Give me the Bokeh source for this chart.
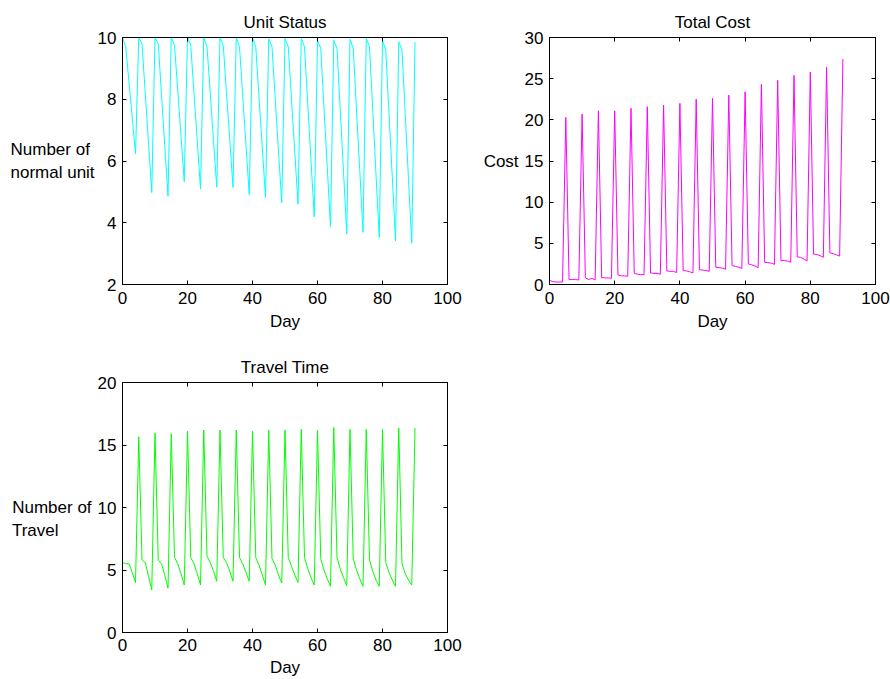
from bokeh.plotting import figure
from bokeh.models import Range1d, LinearAxis, FixedTicker, CustomJSTickFormatter
from bokeh.layouts import column, row
from bokeh.embed import file_html
from bokeh.resources import INLINE

# ---------------- data ----------------
days = list(range(91))

unit_status = [
    10, 9.7, 8.55, 7.4, 6.23,
    10, 9.8, 8.2, 6.6, 4.98,
    10, 9.8, 8.15, 6.5, 4.86,
    10, 9.75, 8.3, 6.8, 5.33,
    10, 9.75, 8.2, 6.65, 5.09,
    10, 9.7, 8.2, 6.65, 5.15,
    10, 9.75, 8.2, 6.7, 5.14,
    10, 9.7, 8.1, 6.5, 4.91,
    10, 9.7, 8.05, 6.45, 4.82,
    9.95, 9.7, 8.0, 6.3, 4.64,
    9.97, 9.7, 8.0, 6.3, 4.60,
    9.97, 9.7, 7.85, 6.0, 4.19,
    9.91, 9.65, 7.7, 5.8, 3.86,
    9.91, 9.65, 7.65, 5.65, 3.63,
    9.94, 9.65, 7.65, 5.7, 3.69,
    9.97, 9.7, 7.65, 5.55, 3.52,
    9.91, 9.6, 7.55, 5.5, 3.41,
    9.86, 9.6, 7.5, 5.4, 3.34,
    9.85,
]

total_cost = [
    0.5, 0.35, 0.3, 0.3, 0.3,
    20.3, 0.6, 0.6, 0.6, 0.55,
    20.7, 0.8, 0.6, 0.75, 0.55,
    21.1, 0.85, 0.8, 0.8, 0.75,
    21.1, 1.15, 1.05, 1.05, 1.0,
    21.4, 1.35, 1.25, 1.2, 1.2,
    21.6, 1.4, 1.35, 1.35, 1.25,
    21.8, 1.65, 1.6, 1.6, 1.45,
    22.0, 1.7, 1.65, 1.55, 1.4,
    22.5, 1.8, 1.75, 1.7, 1.6,
    22.6, 2.1, 2.05, 2.0, 1.85,
    23.0, 2.3, 2.2, 2.1, 1.95,
    23.4, 2.5, 2.4, 2.25, 2.05,
    24.3, 2.7, 2.65, 2.6, 2.45,
    24.8, 2.9, 2.9, 2.85, 2.7,
    25.4, 3.35, 3.3, 3.1, 2.85,
    25.8, 3.7, 3.65, 3.5, 3.3,
    26.4, 3.85, 3.75, 3.6, 3.45,
    27.4,
]

travel_time = [
    5.6, 5.5, 5.5, 4.8, 4.0,
    15.65, 5.8, 5.6, 4.5, 3.4,
    15.95, 5.8, 5.5, 4.6, 3.55,
    15.9, 6.0, 5.5, 4.7, 3.8,
    16.1, 6.0, 5.5, 4.7, 3.8,
    16.2, 6.1, 5.6, 4.9, 4.1,
    16.2, 6.0, 5.6, 4.9, 4.1,
    16.2, 6.0, 5.5, 4.8, 4.1,
    16.1, 6.0, 5.4, 4.6, 3.8,
    16.2, 5.9, 5.4, 4.6, 3.95,
    16.2, 6.0, 5.3, 4.6, 4.0,
    16.25, 6.0, 5.1, 4.4, 3.8,
    16.2, 5.9, 5.0, 4.3, 3.7,
    16.4, 6.0, 5.1, 4.4, 3.75,
    16.25, 5.9, 5.0, 4.3, 3.7,
    16.25, 5.8, 4.9, 4.2, 3.7,
    16.25, 5.6, 4.8, 4.2, 3.7,
    16.35, 5.5, 4.7, 4.2, 3.8,
    16.35,
]

x_ticks = [0, 20, 40, 60, 80, 100]
unit_ticks = [2, 4, 6, 8, 10]
cost_ticks = [0, 5, 10, 15, 20, 25, 30]
travel_ticks = [0, 5, 10, 15, 20]

FONT = "Liberation Sans"
FS = "17px"


def style_axis(ax, ticks, show_labels):
    ax.ticker = FixedTicker(ticks=ticks)
    ax.axis_line_color = "black"
    ax.axis_line_width = 1
    ax.major_tick_line_color = "black"
    ax.major_tick_in = 4
    ax.major_tick_out = 0
    ax.minor_tick_line_color = None
    ax.major_label_text_font = FONT
    ax.major_label_text_font_size = FS
    ax.major_label_text_color = "black"
    ax.major_label_standoff = 6
    ax.axis_label_text_font = FONT
    ax.axis_label_text_font_size = FS
    ax.axis_label_text_font_style = "normal"
    ax.axis_label_text_color = "black"
    if not show_labels:
        ax.formatter = CustomJSTickFormatter(code="return ''")
        ax.major_label_text_font_size = "0px"
        ax.major_label_standoff = 0


def make_panel(ys, color, yr, yticks, title, ylabel, ylab_standoff,
               width, height, ml, mr, mt, mb, title_standoff,
               xtick_standoff, xlab_standoff):
    p = figure(width=width, height=height,
               x_range=Range1d(0, 100), y_range=Range1d(*yr),
               output_backend="svg", toolbar_location=None,
               x_axis_location=None, y_axis_location=None,
               min_border_left=ml, min_border_right=mr,
               min_border_top=mt, min_border_bottom=mb,
               title=title)
    p.title.align = "center"
    p.title.text_font = FONT
    p.title.text_font_size = FS
    p.title.text_font_style = "normal"
    p.title.text_color = "black"
    p.title.standoff = title_standoff
    p.outline_line_color = "black"
    p.background_fill_color = "white"
    p.border_fill_color = "white"

    bx = LinearAxis()
    style_axis(bx, x_ticks, True)
    bx.major_label_standoff = xtick_standoff
    bx.axis_label = "Day"
    bx.axis_label_standoff = xlab_standoff
    p.add_layout(bx, "below")

    tx = LinearAxis()
    style_axis(tx, x_ticks, False)
    p.add_layout(tx, "above")

    ly = LinearAxis()
    style_axis(ly, yticks, True)
    ly.axis_label = ylabel
    ly.axis_label_orientation = "horizontal"
    ly.axis_label_standoff = ylab_standoff
    p.add_layout(ly, "left")

    ry = LinearAxis()
    style_axis(ry, yticks, False)
    p.add_layout(ry, "right")

    p.grid.grid_line_color = None
    p.line(days, ys, line_color=color, line_width=1)
    return p


p1 = make_panel(unit_status, "#00FFFF", (2, 10), unit_ticks, "Unit Status",
                "Number of \nnormal unit", 0, 467, 334, 122, 20, 37, 50, 12, 7, 5)
p2 = make_panel(total_cost, "#FF00FF", (0, 30), cost_ticks, "Total Cost",
                "Cost", 3, 423, 334, 82, 15, 37, 50, 12, 7, 5)
p3 = make_panel(travel_time, "#00FF00", (0, 20), travel_ticks, "Travel Time",
                "\nNumber of\nTravel       ", 3, 467, 345, 122, 20, 48, 47, 12, 6, 4)

layout = column(row(p1, p2), p3)
open("out.html", "w").write(file_html(layout, INLINE))
